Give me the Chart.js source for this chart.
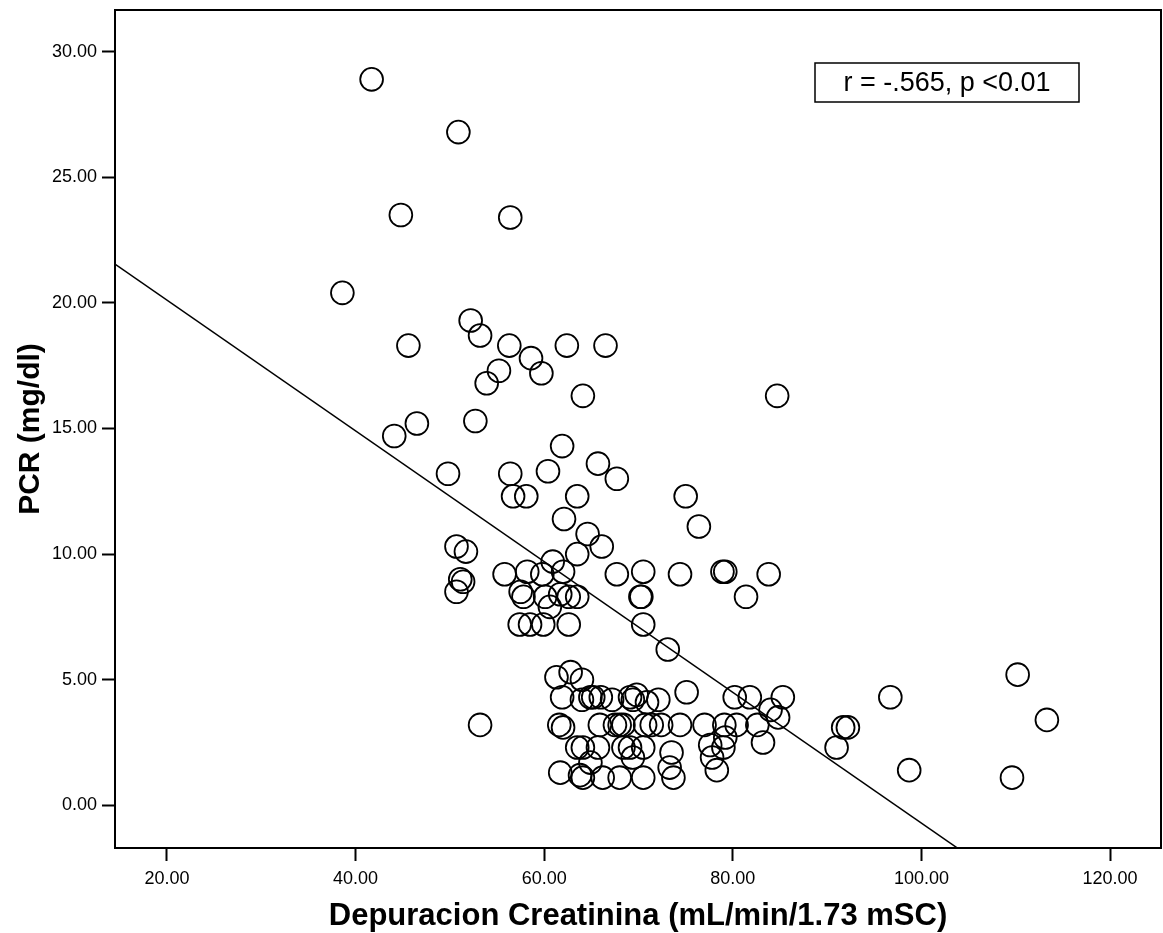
<!DOCTYPE html>
<html>
<head>
<meta charset="utf-8">
<script src="https://cdn.jsdelivr.net/npm/chart.js@4.4.1/dist/chart.umd.min.js"></script>
<style>
    body { margin: 0; background: #fff; }
    #wrap { width: 1163px; height: 933px; }
</style>
</head>
<body>
<div id="wrap"><canvas id="scatterChart" width="1163" height="933"></canvas></div>
<script>
// Depuracion creatinina (x) vs PCR (y)
var depuracion = [
    41.7, 50.9, 44.8, 56.4, 38.6, 52.2, 53.2, 45.6, 56.3, 62.4,
    66.5, 58.6, 55.2, 59.7, 53.9, 64.1, 84.7, 46.5, 44.1, 52.7,
    61.9, 49.8, 56.4, 60.4, 65.7, 67.7, 56.7, 58.1, 63.5, 75.0,
    62.1, 76.4, 64.6, 50.7, 51.7, 66.1, 63.5, 60.9, 55.8, 58.2,
    59.8, 62.0, 67.7, 70.5, 74.4, 78.9, 79.2, 83.8, 51.1, 51.4,
    50.7, 57.5, 57.8, 60.1, 61.7, 62.6, 63.5, 70.2, 70.3, 81.4,
    60.6, 57.4, 58.5, 59.9, 62.6, 70.5, 73.1, 61.3, 62.8, 64.0,
    75.1, 61.9, 64.0, 64.9, 65.2, 66.0, 67.2, 69.1, 69.4, 69.8,
    70.9, 72.1, 80.2, 81.8, 85.3, 96.7, 84.0, 84.8, 61.6, 62.0,
    65.9, 67.5, 68.0, 68.4, 70.7, 71.4, 72.4, 74.4, 77.0, 79.1,
    80.4, 82.6, 91.7, 92.2, 53.2, 113.3, 79.2, 77.6, 79.0, 83.2,
    91.0, 63.5, 64.1, 65.7, 68.4, 69.1, 70.5, 73.5, 69.4, 77.8,
    64.9, 73.3, 61.7, 63.8, 64.1, 66.2, 68.0, 70.5, 73.7, 78.3,
    98.7, 109.6, 110.2
];
var pcr = [
    28.9, 26.8, 23.5, 23.4, 20.4, 19.3, 18.7, 18.3, 18.3, 18.3,
    18.3, 17.8, 17.3, 17.2, 16.8, 16.3, 16.3, 15.2, 14.7, 15.3,
    14.3, 13.2, 13.2, 13.3, 13.6, 13.0, 12.3, 12.3, 12.3, 12.3,
    11.4, 11.1, 10.8, 10.3, 10.1, 10.3, 10.0, 9.7, 9.2, 9.3,
    9.2, 9.3, 9.2, 9.3, 9.2, 9.3, 9.3, 9.2, 9.0, 8.9,
    8.5, 8.5, 8.3, 8.3, 8.4, 8.3, 8.3, 8.3, 8.3, 8.3,
    7.9, 7.2, 7.2, 7.2, 7.2, 7.2, 6.2, 5.1, 5.3, 5.0,
    4.5, 4.3, 4.2, 4.3, 4.3, 4.3, 4.2, 4.3, 4.2, 4.4,
    4.1, 4.2, 4.3, 4.3, 4.3, 4.3, 3.8, 3.5, 3.2, 3.1,
    3.2, 3.2, 3.2, 3.2, 3.2, 3.2, 3.2, 3.2, 3.2, 3.2,
    3.2, 3.2, 3.1, 3.1, 3.2, 3.4, 2.7, 2.4, 2.3, 2.5,
    2.3, 2.3, 2.3, 2.3, 2.3, 2.3, 2.3, 2.1, 1.9, 1.9,
    1.7, 1.5, 1.3, 1.2, 1.1, 1.1, 1.1, 1.1, 1.1, 1.4,
    1.4, 1.1, 5.2
];

// recta de regresion
var intercepto = 25.32;
var pendiente = -0.2603;

var ticksX = [20, 40, 60, 80, 100, 120];
var ticksY = [0, 5, 10, 15, 20, 25, 30];
var rangoX = [14.49, 125.4];
var rangoY = [-1.70, 31.66];

var tituloX = 'Depuracion Creatinina (mL/min/1.73 mSC)';
var tituloY = 'PCR (mg/dl)';
var textoCorrelacion = 'r = -.565, p <0.01';

var fuente = "'Liberation Sans', Arial, sans-serif";

var puntos = depuracion.map(function(x, i) { return {x: x, y: pcr[i]}; });
var recta = rangoX.map(function(x) { return {x: x, y: intercepto + pendiente * x}; });

// marco del area del grafico y cuadro con la correlacion
var marcoPlugin = {
    id: 'marco',
    afterDraw: function(chart) {
        var ctx = chart.ctx;
        var a = chart.chartArea;
        ctx.save();
        ctx.strokeStyle = '#000';
        ctx.lineWidth = 2;
        ctx.strokeRect(a.left, a.top, a.right - a.left, a.bottom - a.top);

        ctx.lineWidth = 1.5;
        ctx.fillStyle = '#fff';
        ctx.fillRect(815, 63, 264, 39);
        ctx.strokeRect(815, 63, 264, 39);
        ctx.fillStyle = '#000';
        ctx.font = '27px ' + fuente;
        ctx.textAlign = 'center';
        ctx.textBaseline = 'middle';
        ctx.fillText(textoCorrelacion, 947, 84);
        ctx.restore();
    }
};

var ctx = document.getElementById('scatterChart').getContext('2d');
new Chart(ctx, {
    type: 'scatter',
    data: {
        datasets: [
            {
                label: 'PCR',
                data: puntos,
                pointStyle: 'circle',
                pointRadius: 11.4,
                pointHoverRadius: 11.4,
                borderColor: '#000',
                borderWidth: 1.8,
                backgroundColor: 'rgba(0,0,0,0)'
            },
            {
                label: 'Regresion',
                type: 'line',
                data: recta,
                borderColor: '#000',
                borderWidth: 1.5,
                pointRadius: 0,
                fill: false
            }
        ]
    },
    options: {
        responsive: false,
        animation: false,
        layout: {
            autoPadding: false,
            padding: { top: 10, right: 2, left: 0, bottom: 0 }
        },
        plugins: {
            legend: { display: false },
            tooltip: { enabled: false }
        },
        scales: {
            x: {
                type: 'linear',
                min: rangoX[0],
                max: rangoX[1],
                afterBuildTicks: function(scale) {
                    scale.ticks = ticksX.map(function(v) { return {value: v}; });
                },
                afterFit: function(scale) {
                    scale.height = 85;
                    scale.paddingLeft = 0;
                    scale.paddingRight = 0;
                },
                grid: {
                    drawOnChartArea: false,
                    drawTicks: true,
                    tickLength: 13,
                    tickWidth: 2,
                    tickColor: '#000'
                },
                border: { display: false },
                ticks: {
                    color: '#000',
                    padding: 7,
                    maxRotation: 0,
                    font: { family: fuente, size: 18 },
                    callback: function(v) { return Number(v).toFixed(2); }
                },
                title: {
                    display: true,
                    text: tituloX,
                    color: '#000',
                    padding: { top: 0, bottom: 0 },
                    font: { family: fuente, size: 31, weight: 'bold', lineHeight: 1.08 }
                }
            },
            y: {
                type: 'linear',
                min: rangoY[0],
                max: rangoY[1],
                afterBuildTicks: function(scale) {
                    scale.ticks = ticksY.map(function(v) { return {value: v}; });
                },
                afterFit: function(scale) {
                    scale.width = 115;
                    scale.paddingTop = 0;
                    scale.paddingBottom = 0;
                },
                grid: {
                    drawOnChartArea: false,
                    drawTicks: true,
                    tickLength: 13,
                    tickWidth: 2,
                    tickColor: '#000'
                },
                border: { display: false },
                ticks: {
                    color: '#000',
                    padding: 5,
                    font: { family: fuente, size: 18 },
                    callback: function(v) { return Number(v).toFixed(2); }
                },
                title: {
                    display: true,
                    text: tituloY,
                    color: '#000',
                    padding: { top: 13, bottom: 0 },
                    font: { family: fuente, size: 30, weight: 'bold' }
                }
            }
        }
    },
    plugins: [marcoPlugin]
});
</script>
</body>
</html>
